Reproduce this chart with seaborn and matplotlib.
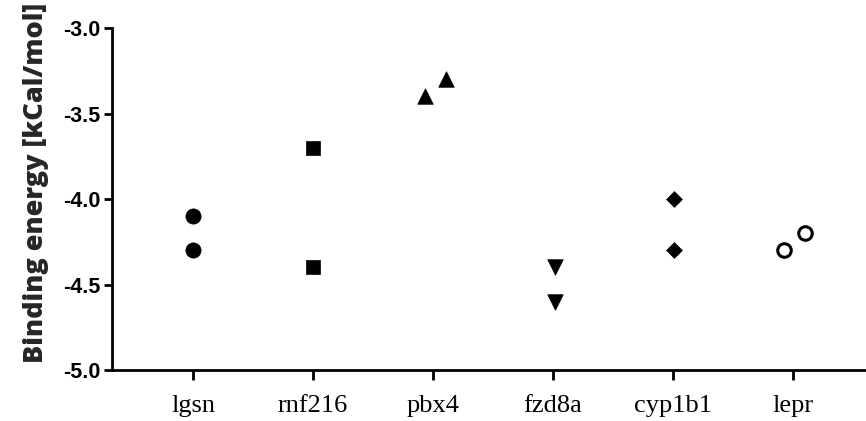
import matplotlib
matplotlib.use("Agg")
import matplotlib.pyplot as plt
import seaborn as sns
import pandas as pd

# ---- data ----
genes = ["lgsn", "rnf216", "pbx4", "fzd8a", "cyp1b1", "lepr"]
point_gene = ["lgsn", "lgsn", "rnf216", "rnf216", "pbx4", "pbx4",
              "fzd8a", "fzd8a", "cyp1b1", "cyp1b1", "lepr", "lepr"]
binding_energy = [-4.1, -4.3, -3.7, -4.4, -3.4, -3.3,
                  -4.4, -4.6, -4.0, -4.3, -4.3, -4.2]
x_jitter = [0.0, 0.0, 0.0, 0.0, -0.07, 0.11,
            0.02, 0.02, 0.01, 0.01, -0.07, 0.10]
y_ticks = [-5.0, -4.5, -4.0, -3.5, -3.0]

markers = {"lgsn": "o", "rnf216": "s", "pbx4": "^", "fzd8a": "v",
           "cyp1b1": "D", "lepr": "o"}
sizes = {"lgsn": 120, "rnf216": 115, "pbx4": 125, "fzd8a": 125,
         "cyp1b1": 65, "lepr": 95}
hollow = {"lepr"}

df = pd.DataFrame({"gene": point_gene, "energy": binding_energy,
                   "jit": x_jitter})
df["x"] = df["gene"].map({g: i for i, g in enumerate(genes)}) + df["jit"]

sns.set_style("ticks")
fig = plt.figure(figsize=(8.66, 4.21), dpi=100)
ax = fig.add_axes([0.1293, 0.1211, 0.8707, 0.8124])

for g in genes:
    sub = df[df["gene"] == g]
    if g in hollow:
        sns.scatterplot(data=sub, x="x", y="energy", marker=markers[g],
                        s=sizes[g], facecolor="white", edgecolor="black",
                        linewidth=2.2, ax=ax, zorder=3, clip_on=False)
    else:
        sns.scatterplot(data=sub, x="x", y="energy", marker=markers[g],
                        s=sizes[g], color="black", edgecolor="black",
                        linewidth=0.5, ax=ax, zorder=3, clip_on=False)

ax.set_xlim(-0.675, 5.61)
ax.set_ylim(-5.0, -3.0)
ax.set_xticks(range(len(genes)))
ax.set_xticklabels(genes, fontfamily="Liberation Serif", fontsize=19)
ax.set_yticks(y_ticks)
ax.set_yticklabels([f"{v:.1f}" for v in y_ticks],
                   fontfamily="Liberation Sans", fontweight="bold", fontsize=15.5)
ax.set_xlabel("")
ax.set_ylabel("Binding energy [kCal/mol]", fontfamily="Open Sans",
              fontweight="heavy", fontsize=19.5)
ax.yaxis.set_label_coords(-0.083, 0.547)

for side in ["top", "right"]:
    ax.spines[side].set_visible(False)
for side in ["left", "bottom"]:
    ax.spines[side].set_linewidth(2.0)
    ax.spines[side].set_color("black")
ax.tick_params(axis="y", length=6, width=2.0, pad=2, colors="black")
ax.tick_params(axis="x", length=7, width=2.0, pad=11, colors="black")

fig.savefig("out.png", dpi=100)
